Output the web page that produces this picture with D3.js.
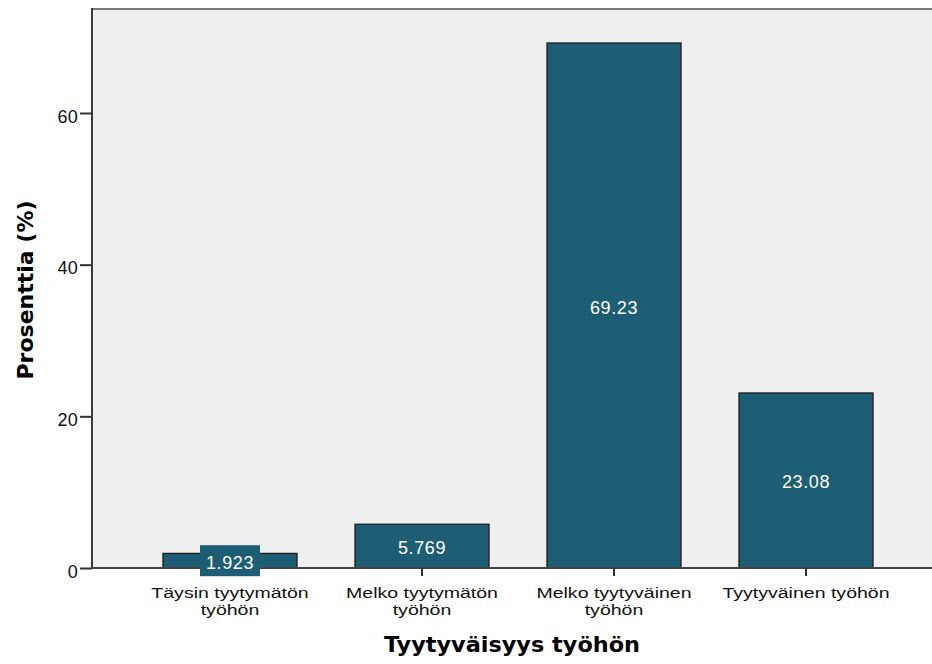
<!DOCTYPE html>
<html><head><meta charset="utf-8">
<script src="https://cdn.jsdelivr.net/npm/d3@7"></script>
<style>body{margin:0;background:#fff}svg{display:block}</style>
</head><body>
<svg id="c" width="932" height="664"></svg>
<script>
const categories = [["Täysin tyytymätön","työhön"],["Melko tyytymätön","työhön"],["Melko tyytyväinen","työhön"],["Tyytyväinen työhön"]];
const values = [1.923, 5.769, 69.23, 23.08];
const valueLabels = ["1.923","5.769","69.23","23.08"];
const yTicks = [0, 20, 40, 60];

const svg = d3.select("#c");
const L = 92, T = 9, R = 932, B = 568;
const font = "'Liberation Sans', Arial, sans-serif";
const barColor = "#1e5e75";

const x = d3.scaleBand().domain(d3.range(categories.length)).range([134, 902]).paddingInner(0.302).paddingOuter(0.151);
const y = d3.scaleLinear().domain([0, 60]).range([B, 113]);

svg.append("rect").attr("x", L).attr("y", T).attr("width", R - L).attr("height", B - T).attr("fill", "#efefef");
svg.append("line").attr("x1", L).attr("x2", R).attr("y1", T).attr("y2", T).attr("stroke", "#7a7a7a").attr("stroke-width", 2);

svg.selectAll("rect.bar").data(values).join("rect").attr("class","bar")
  .attr("x", (d,i) => x(i)).attr("width", x.bandwidth())
  .attr("y", d => y(d)).attr("height", d => B - y(d))
  .attr("fill", barColor).attr("stroke", "#1c1c1c").attr("stroke-width", 1.3);

// y axis
const ya = svg.append("g").attr("transform", `translate(${L},0)`)
  .call(d3.axisLeft(y).tickValues(yTicks).tickSize(12).tickPadding(2).tickFormat(d3.format("d")));
ya.select(".domain").remove();
ya.selectAll(".tick line").attr("stroke", "#333").attr("stroke-width", 2);
ya.selectAll(".tick text").attr("font-family", font).attr("font-size", 18).attr("dy", "0.5em")
  .attr("letter-spacing", "0.3px").attr("fill", "#111");
svg.append("line").attr("x1", L).attr("x2", L).attr("y1", T - 1).attr("y2", B).attr("stroke", "#3a3a3a").attr("stroke-width", 2);

// x axis
svg.append("line").attr("x1", L).attr("x2", R).attr("y1", B).attr("y2", B).attr("stroke", "#444").attr("stroke-width", 2);
const xa = svg.append("g").attr("transform", `translate(0,${B})`)
  .call(d3.axisBottom(x).tickSize(8).tickFormat(""));
xa.select(".domain").remove();
xa.selectAll(".tick line").attr("stroke", "#333").attr("stroke-width", 2);
xa.selectAll(".tick").each(function(d) {
  const t = d3.select(this).append("text").attr("text-anchor","middle").attr("font-family", font)
    .attr("transform", "scale(1.26,1)")
    .attr("font-size", 15.5).attr("fill","#111");
  categories[d].forEach((s, k) => t.append("tspan").attr("x", 0).attr("y", 30 + k*17).text(s));
});

// value labels
const lbl = svg.append("g");
values.forEach((v, i) => {
  const cx = x(i) + x.bandwidth()/2, cy = (y(v) + B)/2;
  const g = lbl.append("g");
  const t = g.append("text").attr("x", cx).attr("y", cy + 8).attr("text-anchor","middle")
    .attr("font-family", font).attr("font-size", 18).attr("letter-spacing", "0.6px").attr("fill", "#fff").text(valueLabels[i]);
  if (B - y(v) < 30) {
    const bb = t.node().getBBox();
    g.insert("rect", "text").attr("x", cx - bb.width/2 - 6).attr("y", cy - 15.5).attr("width", bb.width + 12).attr("height", 31).attr("fill", barColor);
  }
});

svg.append("text").attr("transform","translate(512,652) scale(1.12,1.05)").attr("text-anchor","middle")
  .attr("font-family","'DejaVu Sans', sans-serif").attr("font-weight","bold").attr("font-size",20).attr("fill","#000").text("Tyytyväisyys työhön");
svg.append("text").attr("transform","translate(33,290) rotate(-90)").attr("text-anchor","middle")
  .attr("font-family","'DejaVu Sans', sans-serif").attr("font-weight","bold").attr("font-size",22).attr("fill","#000").text("Prosenttia (%)");
</script>
</body></html>
